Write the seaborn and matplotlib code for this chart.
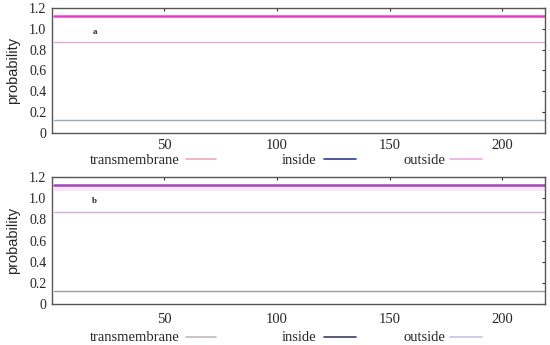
import matplotlib
matplotlib.use("Agg")
import matplotlib.pyplot as plt
import seaborn as sns
import pandas as pd
from matplotlib.lines import Line2D

# ---- data ----
positions = [1, 219]
# panel a
a_outside_band = [1.12, 1.12]
a_outside = [0.87, 0.87]
a_inside = [0.12, 0.12]
# panel b
b_outside_band = [1.12, 1.12]
b_band_low = [1.07, 1.07]
b_outside = [0.87, 0.87]
b_inside = [0.125, 0.125]

xticks = [50, 100, 150, 200]
yticks = [0, 0.2, 0.4, 0.6, 0.8, 1.0, 1.2]
ytick_labels = ["0", "0.2", "0.4", "0.6", "0.8", "1.0", "1.2"]
legend_names = ["transmembrane", "inside", "outside"]

sns.set_style("white")
plt.rcParams["font.family"] = ["Liberation Serif", "DejaVu Serif"]

fig = plt.figure(figsize=(5.5, 3.45), dpi=100)
ax_a = fig.add_axes([0.0945, 0.6145, 0.896, 0.3625])
ax_b = fig.add_axes([0.0945, 0.118, 0.896, 0.369])

def df(x, y):
    return pd.DataFrame({"pos": x, "p": y})

# panel a lines
sns.lineplot(data=df(positions, a_outside_band), x="pos", y="p", ax=ax_a, color="#e83cc8", lw=1.8)
sns.lineplot(data=df(positions, a_outside), x="pos", y="p", ax=ax_a, color="#e6a6d0", lw=1.0)
sns.lineplot(data=df(positions, a_inside), x="pos", y="p", ax=ax_a, color="#98a8b4", lw=1.0)

# panel b lines
ax_b.fill_between(positions, b_band_low, b_outside_band, color="#fbe4f6", lw=0)
sns.lineplot(data=df(positions, b_outside_band), x="pos", y="p", ax=ax_b, color="#9c48b8", lw=1.8)
sns.lineplot(data=df(positions, b_outside), x="pos", y="p", ax=ax_b, color="#d2b0dc", lw=1.0)
sns.lineplot(data=df(positions, b_inside), x="pos", y="p", ax=ax_b, color="#9a9a9a", lw=1.0)

leg_colors = {
    "a": ["#ecaab8", "#2e3c8c", "#eeaae0"],
    "b": ["#c4b8c0", "#3c3e60", "#c8c0e4"],
}

# legend baselines (pixels from top) and line heights
legend_rows = [(ax_a, "a", 164.0, 159.5, 4.5), (ax_b, "b", 341.0, 336.5, 6.5)]

for ax, tag, base_px, line_px, xpad in legend_rows:
    ax.set_xlim(0, 219)
    ax.set_ylim(0, 1.2)
    ax.set_xticks(xticks)
    ax.set_xticklabels([str(t) for t in xticks], fontsize=10.5)
    ax.set_yticks(yticks)
    ax.set_yticklabels(ytick_labels, fontsize=10)
    ax.set_xlabel("")
    ax.set_ylabel("probability", fontsize=10.5, family=["Liberation Sans", "DejaVu Sans"], labelpad=6.5)
    ax.tick_params(axis="both", direction="in", length=2, width=0.8, top=True, right=True,
                   color="#333333")
    ax.tick_params(axis="x", pad=xpad)
    ax.tick_params(axis="y", pad=4)
    for s in ax.spines.values():
        s.set_color("#555555")
        s.set_linewidth(1.0)
    ax.text(19, 0.97, tag, fontsize=6.5, fontweight="bold", ha="center", va="center")

    cols = leg_colors[tag]
    items = [(90, 186, 216), (282, 324, 356), (404, 450, 482)]
    for name, (tx, lx0, lx1), c in zip(legend_names, items, cols):
        fig.text(tx / 550, 1 - base_px / 345, name, fontsize=10.5, ha="left", va="baseline")
        yl = 1 - line_px / 345
        fig.add_artist(Line2D([lx0 / 550, lx1 / 550], [yl, yl], color=c, lw=1.2,
                              transform=fig.transFigure))

fig.savefig("out.png", dpi=100, facecolor="white")
